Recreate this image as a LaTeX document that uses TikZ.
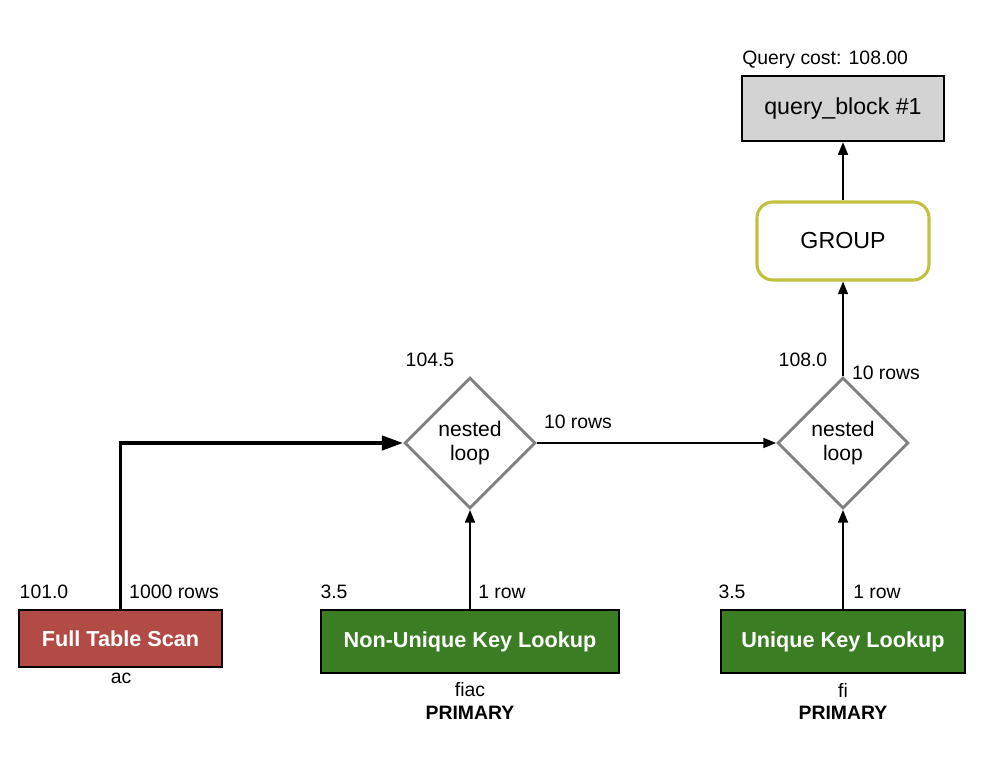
\documentclass[tikz,border=0pt]{standalone}
\usepackage{fontspec}
\setmainfont{Liberation Sans}
\usetikzlibrary{shapes.geometric}
\usetikzlibrary{arrows.meta}
\definecolor{scanred}{HTML}{B24A46}
\definecolor{lookupgreen}{HTML}{3A7D23}
\definecolor{groupolive}{HTML}{C2C03F}
\definecolor{blockgray}{HTML}{D3D3D3}

\begin{document}
\begin{tikzpicture}[x=0.025cm, y=-0.025cm,
	lbl/.style={font=\fontsize{13.8}{16}\selectfont, inner sep=0pt},
	block/.style={draw=black, line width=1.6pt, fill=blockgray, minimum width=5.05cm, minimum height=1.625cm, font=\fontsize{16.5}{19}\selectfont},
	groupbox/.style={draw=groupolive, line width=2.2pt, rounded corners=0.4cm, minimum width=4.3cm, minimum height=1.95cm, font=\fontsize{16.5}{19}\selectfont},
	loopnode/.style={diamond, draw=black!50, line width=2pt, fill=white, minimum width=3.275cm, minimum height=3.275cm, inner sep=0pt, align=center, font=\fontsize{15}{17}\selectfont},
	scan/.style={draw=black, line width=1.6pt, text=white, minimum height=1.575cm, font=\fontsize{15.4}{18}\selectfont\bfseries},
	flow/.style={draw=black, line width=1.4pt, -{Triangle[length=9pt, width=7pt]}},
	bigflow/.style={draw=black, line width=2.8pt, -{Triangle[length=15pt, width=10pt]}}]
	\useasboundingbox (0,0) rectangle (1002,762);
	% plan nodes
	\node[block] (qb) at (843,108.5) {query\_block \#1};
	\node[groupbox] (grp) at (843,241) {GROUP};
	\node[loopnode] (nl2) at (843,443) {nested\\loop};
	\node[loopnode] (nl1) at (470,443) {nested\\loop};
	\node[scan, fill=scanred, minimum width=5.075cm, minimum height=1.425cm] (fts) at (120.5,638.5) {Full Table Scan};
	\node[scan, fill=lookupgreen, minimum width=7.45cm] (nukl) at (470,641.5) {Non-Unique Key Lookup};
	\node[scan, fill=lookupgreen, minimum width=6.1cm] (ukl) at (843,641.5) {Unique Key Lookup};
	% costs and rows
	\node[lbl, anchor=west] (qcost) at (742,60) {Query cost: 108.00};
	\node[lbl] (c2) at (803,360) {108.0};
	\node[lbl] (r2) at (886,373) {10 rows};
	\node[lbl] (c1) at (430,360) {104.5};
	\node[lbl] (r1) at (578,422) {10 rows};
	\node[lbl] (cfts) at (44,592) {101.0};
	\node[lbl] (rfts) at (174,592) {1000 rows};
	\node[lbl] (cnukl) at (334,592) {3.5};
	\node[lbl] (rnukl) at (502,592) {1 row};
	\node[lbl] (cukl) at (732,592) {3.5};
	\node[lbl] (rukl) at (877,592) {1 row};
	% table names
	\node[lbl] (tfts) at (121,678) {ac};
	\node[lbl] (tnukl) at (470,690) {fiac};
	\node[lbl, font=\fontsize{13.8}{16}\selectfont\bfseries] (knukl) at (470,713) {PRIMARY};
	\node[lbl] (tukl) at (843,690) {fi};
	\node[lbl, font=\fontsize{13.8}{16}\selectfont\bfseries] (kukl) at (843,713) {PRIMARY};
	% connectors
	\draw[bigflow] (fts.north) |- (nl1.west);
	\draw[flow] (nukl.north) -- (nl1.south);
	\draw[flow] (nl1.east) -- (nl2.west);
	\draw[flow] (ukl.north) -- (nl2.south);
	\draw[flow] (nl2.north) -- (grp.south);
	\draw[flow] (grp.north) -- (qb.south);
\end{tikzpicture}
\end{document}
